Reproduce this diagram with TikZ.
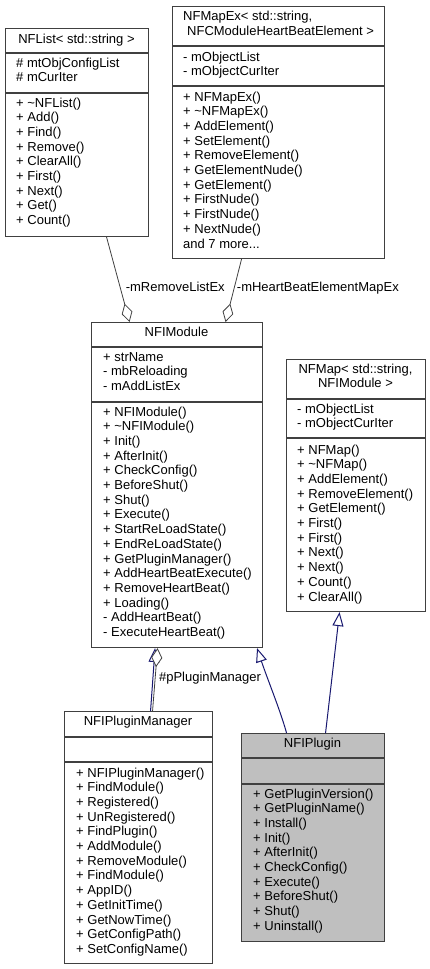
\documentclass[tikz,border=0pt]{standalone}
\usepackage{fontspec}
\setmainfont{Liberation Sans}
\usetikzlibrary{arrows.meta}

\definecolor{boxline}{HTML}{404040}
\definecolor{inhline}{HTML}{191970}
\definecolor{plugfill}{HTML}{BFBFBF}

\tikzset{
  cls/.style={draw=boxline, line width=1.1pt, inner sep=0pt, anchor=north west},
  clsline/.style={draw=boxline, line width=1.1pt},
  mem/.style={anchor=west, inner sep=0pt, text height=9pt, text depth=3pt},
  ttl/.style={inner sep=0pt, text height=9pt, text depth=3pt},
  lbl/.style={inner sep=0pt, text height=9pt, text depth=3pt},
  aggr/.style={draw=boxline, line width=0.8pt,
    -{Diamond[open, fill=white, length=19pt, width=11pt, line width=0.8pt]}},
  inh/.style={draw=inhline, line width=1pt,
    -{Triangle[open, fill=white, length=14pt, width=11pt, line width=1pt]}},
}

% box: fill, name, x, y, width, height, first and second separator (from top)
\newcommand\umlbox[8][white]{%
  \node[cls, fill=#1, minimum width=#5pt, minimum height=#6pt] (#2) at (#3,#4) {};
  \draw[clsline] ([yshift=-#7pt]#2.north west) -- ([yshift=-#7pt]#2.north east);
  \draw[clsline] ([yshift=-#8pt]#2.north west) -- ([yshift=-#8pt]#2.north east);
}
% one line per member
\newcommand\members[4]{%
  \foreach \t [count=\i from 0] in {#4}
    \node[mem] (#1-\i) at (#2, #3+14.7*\i) {\t};
}

\begin{document}
\begin{tikzpicture}[x=1pt,y=-1pt,font=\fontsize{13}{14.7}\selectfont]
    \useasboundingbox (0,0) rectangle (430,969);

    % NFList
    \umlbox{nflist}{5}{28}{143}{208}{25}{65}
    \node[ttl] (nflist-title) at (76.5,40) {NFList< std::string >};
    \members{nflist-a}{16}{64}{\# mtObjConfigList, \# mCurIter}
    \members{nflist-m}{16}{104}{+ \textasciitilde NFList(), + Add(), + Find(), + Remove(),
      + ClearAll(), + First(), + Next(), + Get(), + Count()}

    % NFMapEx
    \umlbox{mapex}{172}{6}{212}{252}{40}{80}
    \node[mem] (mapex-title1) at (183,17) {NFMapEx< std::string,};
    \node[mem] (mapex-title2) at (187,32) {NFCModuleHeartBeatElement >};
    \members{mapex-a}{183}{58}{- mObjectList, - mObjectCurIter}
    \members{mapex-m}{183}{98}{+ NFMapEx(), + \textasciitilde NFMapEx(), + AddElement(),
      + SetElement(), + RemoveElement(), + GetElementNude(), + GetElement(),
      + FirstNude(), + FirstNude(), + NextNude()}
    \node[mem] (mapex-more) at (183,245) {and 7 more...};

    % NFIModule
    \umlbox{module}{91}{322}{171}{325}{25}{80}
    \node[ttl] (module-title) at (176.5,333) {NFIModule};
    \members{module-a}{103}{358}{+ strName, - mbReloading, - mAddListEx}
    \members{module-m}{103}{413}{+ NFIModule(), + \textasciitilde NFIModule(), + Init(),
      + AfterInit(), + CheckConfig(), + BeforeShut(), + Shut(), + Execute(),
      + StartReLoadState(), + EndReLoadState(), + GetPluginManager(),
      + AddHeartBeatExecute(), + RemoveHeartBeat(), + Loading(),
      - AddHeartBeat(), - ExecuteHeartBeat()}

    % NFMap
    \umlbox{map}{286}{359}{139}{252}{40}{79}
    \node[ttl] (map-title1) at (355.5,370) {NFMap< std::string,};
    \node[ttl] (map-title2) at (355.5,384.5) {NFIModule >};
    \members{map-a}{297}{410}{- mObjectList, - mObjectCurIter}
    \members{map-m}{297}{451}{+ NFMap(), + \textasciitilde NFMap(), + AddElement(),
      + RemoveElement(), + GetElement(), + First(), + First(), + Next(), + Next(),
      + Count(), + ClearAll()}

    % NFIPluginManager
    \umlbox{manager}{64}{711}{148}{252}{26}{51}
    \node[ttl] (manager-title) at (138,722) {NFIPluginManager};
    \members{manager-m}{76}{774}{+ NFIPluginManager(), + FindModule(), + Registered(),
      + UnRegistered(), + FindPlugin(), + AddModule(), + RemoveModule(),
      + FindModule(), + AppID(), + GetInitTime(), + GetNowTime(),
      + GetConfigPath(), + SetConfigName()}

    % NFIPlugin
    \umlbox[plugfill]{plugin}{241}{733}{143}{208}{25}{51}
    \node[ttl] (plugin-title) at (312.5,744) {NFIPlugin};
    \members{plugin-m}{253}{795}{+ GetPluginVersion(), + GetPluginName(), + Install(),
      + Init(), + AfterInit(), + CheckConfig(), + Execute(), + BeforeShut(),
      + Shut(), + Uninstall()}

    % Kapcsolatok
    \draw[aggr] ([xshift=29.5pt]nflist.south) -- node[lbl, pos=0.6, right=5pt] {-mRemoveListEx} ([xshift=-47.5pt]module.north);
    \draw[aggr] ([xshift=-37pt]mapex.south) -- node[lbl, pos=0.47, right=2.5pt] {-mHeartBeatElementMapEx} ([xshift=48.5pt]module.north);
    \draw[inh] ([xshift=12pt]manager.north) -- ([xshift=-22pt]module.south);
    \draw[aggr] ([xshift=14pt]manager.north) -- node[lbl, pos=0.52, right=3.5pt] {\#pPluginManager} ([xshift=-19.5pt]module.south);
    \draw[inh] ([xshift=-26.5pt]plugin.north) .. controls +(-6,-22) and +(10,30) .. ([xshift=80pt]module.south);
    \draw[inh] ([xshift=12.5pt]plugin.north) -- ([xshift=-16.5pt]map.south);
\end{tikzpicture}
\end{document}
